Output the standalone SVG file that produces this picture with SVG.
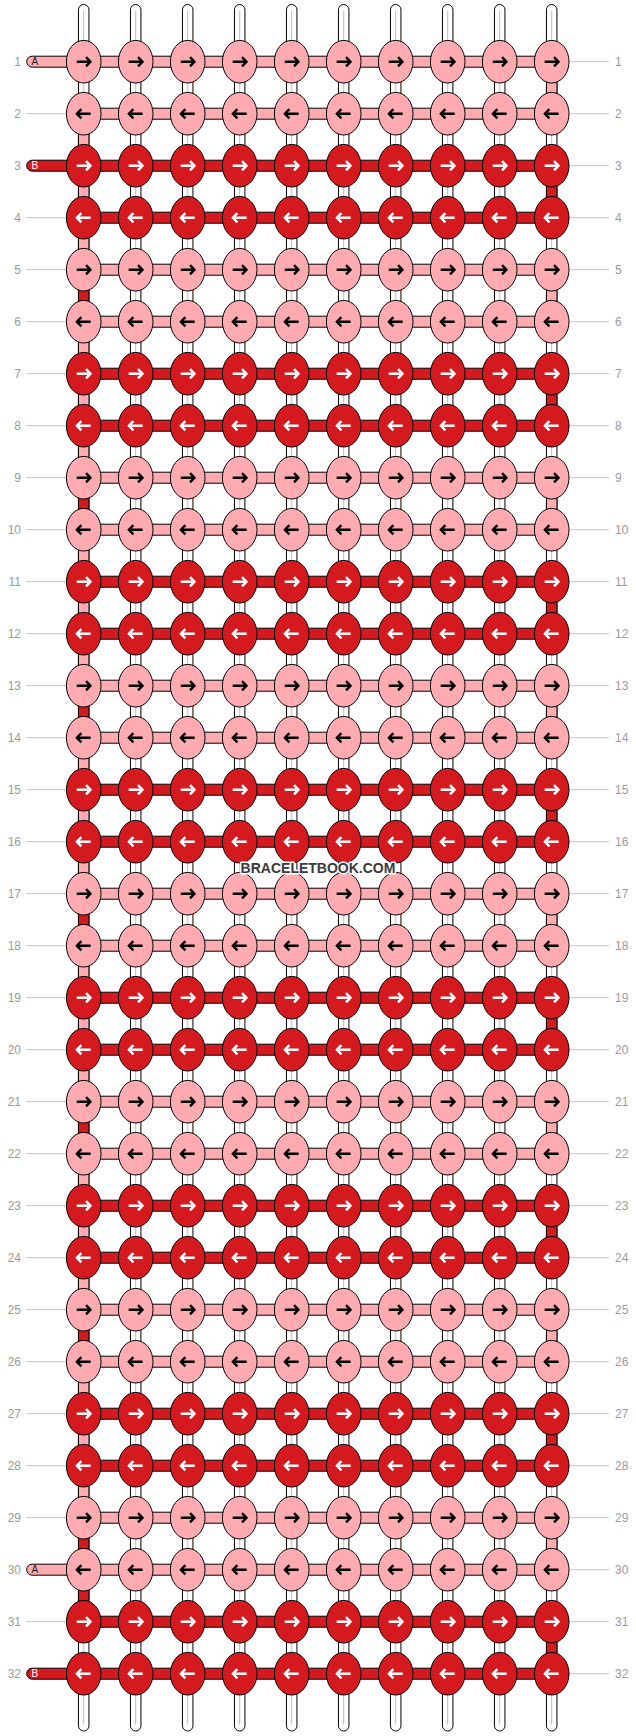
<svg xmlns="http://www.w3.org/2000/svg" xmlns:xlink="http://www.w3.org/1999/xlink" width="636" height="1736" viewBox="0 0 636 1736">
<style>
.tube{fill:#fff;stroke:#000;stroke-width:1}
.core{stroke:#bdbdbd;stroke-width:1}
.p{fill:#ffabb0;stroke:#000;stroke-width:1}
.r{fill:#d51a1f;stroke:#000;stroke-width:1}
.ak{fill:none;stroke:#000;stroke-width:2.4}
.aw{fill:none;stroke:#fff;stroke-width:2.4}
.rl{stroke:#c4c4c4;stroke-width:1}
.nl{font-family:"Liberation Sans",Arial,sans-serif;font-size:12px;fill:#9a9a9a}
.tl{font-family:"Liberation Sans",Arial,sans-serif;font-size:10px}
.wm{font-family:"Liberation Sans",Arial,sans-serif;font-size:14px;font-weight:bold;fill:#3a3a3a;stroke:#fff;stroke-width:3;paint-order:stroke;stroke-linejoin:round}
</style>
<defs>
<g id="PR"><ellipse rx="17.3" ry="21.3" class="p"/><path class="ak" d="M-7,0H5.5M2.3,-4.6L6.8,0L2.3,4.6"/></g>
<g id="PL"><ellipse rx="17.3" ry="21.3" class="p"/><path class="ak" d="M7,0H-5.5M-2.3,-4.6L-6.8,0L-2.3,4.6"/></g>
<g id="RR"><ellipse rx="17.3" ry="21.3" class="r"/><path class="aw" d="M-7,0H5.5M2.3,-4.6L6.8,0L2.3,4.6"/></g>
<g id="RL"><ellipse rx="17.3" ry="21.3" class="r"/><path class="aw" d="M7,0H-5.5M-2.3,-4.6L-6.8,0L-2.3,4.6"/></g>
</defs>
<rect width="636" height="1736" fill="#fff"/>
<g id="labels">
<g class="rl">
<line x1="26" y1="113.7" x2="67" y2="113.7"/><line x1="26" y1="217.7" x2="67" y2="217.7"/><line x1="26" y1="269.7" x2="67" y2="269.7"/><line x1="26" y1="321.7" x2="67" y2="321.7"/><line x1="26" y1="373.7" x2="67" y2="373.7"/><line x1="26" y1="425.7" x2="67" y2="425.7"/><line x1="26" y1="477.7" x2="67" y2="477.7"/><line x1="26" y1="529.7" x2="67" y2="529.7"/><line x1="26" y1="581.7" x2="67" y2="581.7"/><line x1="26" y1="633.7" x2="67" y2="633.7"/><line x1="26" y1="685.7" x2="67" y2="685.7"/><line x1="26" y1="737.7" x2="67" y2="737.7"/><line x1="26" y1="789.7" x2="67" y2="789.7"/><line x1="26" y1="841.7" x2="67" y2="841.7"/><line x1="26" y1="893.7" x2="67" y2="893.7"/><line x1="26" y1="945.7" x2="67" y2="945.7"/><line x1="26" y1="997.7" x2="67" y2="997.7"/><line x1="26" y1="1049.7" x2="67" y2="1049.7"/><line x1="26" y1="1101.7" x2="67" y2="1101.7"/><line x1="26" y1="1153.7" x2="67" y2="1153.7"/><line x1="26" y1="1205.7" x2="67" y2="1205.7"/><line x1="26" y1="1257.7" x2="67" y2="1257.7"/><line x1="26" y1="1309.7" x2="67" y2="1309.7"/><line x1="26" y1="1361.7" x2="67" y2="1361.7"/><line x1="26" y1="1413.7" x2="67" y2="1413.7"/><line x1="26" y1="1465.7" x2="67" y2="1465.7"/><line x1="26" y1="1517.7" x2="67" y2="1517.7"/><line x1="26" y1="1621.7" x2="67" y2="1621.7"/>
<line x1="569" y1="61.7" x2="609" y2="61.7"/><line x1="569" y1="113.7" x2="609" y2="113.7"/><line x1="569" y1="165.7" x2="609" y2="165.7"/><line x1="569" y1="217.7" x2="609" y2="217.7"/><line x1="569" y1="269.7" x2="609" y2="269.7"/><line x1="569" y1="321.7" x2="609" y2="321.7"/><line x1="569" y1="373.7" x2="609" y2="373.7"/><line x1="569" y1="425.7" x2="609" y2="425.7"/><line x1="569" y1="477.7" x2="609" y2="477.7"/><line x1="569" y1="529.7" x2="609" y2="529.7"/><line x1="569" y1="581.7" x2="609" y2="581.7"/><line x1="569" y1="633.7" x2="609" y2="633.7"/><line x1="569" y1="685.7" x2="609" y2="685.7"/><line x1="569" y1="737.7" x2="609" y2="737.7"/><line x1="569" y1="789.7" x2="609" y2="789.7"/><line x1="569" y1="841.7" x2="609" y2="841.7"/><line x1="569" y1="893.7" x2="609" y2="893.7"/><line x1="569" y1="945.7" x2="609" y2="945.7"/><line x1="569" y1="997.7" x2="609" y2="997.7"/><line x1="569" y1="1049.7" x2="609" y2="1049.7"/><line x1="569" y1="1101.7" x2="609" y2="1101.7"/><line x1="569" y1="1153.7" x2="609" y2="1153.7"/><line x1="569" y1="1205.7" x2="609" y2="1205.7"/><line x1="569" y1="1257.7" x2="609" y2="1257.7"/><line x1="569" y1="1309.7" x2="609" y2="1309.7"/><line x1="569" y1="1361.7" x2="609" y2="1361.7"/><line x1="569" y1="1413.7" x2="609" y2="1413.7"/><line x1="569" y1="1465.7" x2="609" y2="1465.7"/><line x1="569" y1="1517.7" x2="609" y2="1517.7"/><line x1="569" y1="1569.7" x2="609" y2="1569.7"/><line x1="569" y1="1621.7" x2="609" y2="1621.7"/><line x1="569" y1="1673.7" x2="609" y2="1673.7"/>
</g>
<g class="nl" text-anchor="end">
<text x="21" y="65.9">1</text><text x="21" y="117.9">2</text><text x="21" y="169.9">3</text><text x="21" y="221.9">4</text><text x="21" y="273.9">5</text><text x="21" y="325.9">6</text><text x="21" y="377.9">7</text><text x="21" y="429.9">8</text><text x="21" y="481.9">9</text><text x="21" y="533.9">10</text><text x="21" y="585.9">11</text><text x="21" y="637.9">12</text><text x="21" y="689.9">13</text><text x="21" y="741.9">14</text><text x="21" y="793.9">15</text><text x="21" y="845.9">16</text><text x="21" y="897.9">17</text><text x="21" y="949.9">18</text><text x="21" y="1001.9">19</text><text x="21" y="1053.9">20</text><text x="21" y="1105.9">21</text><text x="21" y="1157.9">22</text><text x="21" y="1209.9">23</text><text x="21" y="1261.9">24</text><text x="21" y="1313.9">25</text><text x="21" y="1365.9">26</text><text x="21" y="1417.9">27</text><text x="21" y="1469.9">28</text><text x="21" y="1521.9">29</text><text x="21" y="1573.9">30</text><text x="21" y="1625.9">31</text><text x="21" y="1677.9">32</text>
</g>
<g class="nl" text-anchor="start">
<text x="615" y="65.9">1</text><text x="615" y="117.9">2</text><text x="615" y="169.9">3</text><text x="615" y="221.9">4</text><text x="615" y="273.9">5</text><text x="615" y="325.9">6</text><text x="615" y="377.9">7</text><text x="615" y="429.9">8</text><text x="615" y="481.9">9</text><text x="615" y="533.9">10</text><text x="615" y="585.9">11</text><text x="615" y="637.9">12</text><text x="615" y="689.9">13</text><text x="615" y="741.9">14</text><text x="615" y="793.9">15</text><text x="615" y="845.9">16</text><text x="615" y="897.9">17</text><text x="615" y="949.9">18</text><text x="615" y="1001.9">19</text><text x="615" y="1053.9">20</text><text x="615" y="1105.9">21</text><text x="615" y="1157.9">22</text><text x="615" y="1209.9">23</text><text x="615" y="1261.9">24</text><text x="615" y="1313.9">25</text><text x="615" y="1365.9">26</text><text x="615" y="1417.9">27</text><text x="615" y="1469.9">28</text><text x="615" y="1521.9">29</text><text x="615" y="1573.9">30</text><text x="615" y="1625.9">31</text><text x="615" y="1677.9">32</text>
</g>
</g>
<g transform="translate(83.7,61.7)">
<g id="connectors">
<g id="strings">
<rect class="tube" x="-5.25" y="-57.2" width="10.5" height="1726.5" rx="5.25"/>
<rect class="tube" x="46.75" y="-57.2" width="10.5" height="1726.5" rx="5.25"/>
<rect class="tube" x="98.75" y="-57.2" width="10.5" height="1726.5" rx="5.25"/>
<rect class="tube" x="150.75" y="-57.2" width="10.5" height="1726.5" rx="5.25"/>
<rect class="tube" x="202.75" y="-57.2" width="10.5" height="1726.5" rx="5.25"/>
<rect class="tube" x="254.75" y="-57.2" width="10.5" height="1726.5" rx="5.25"/>
<rect class="tube" x="306.75" y="-57.2" width="10.5" height="1726.5" rx="5.25"/>
<rect class="tube" x="358.75" y="-57.2" width="10.5" height="1726.5" rx="5.25"/>
<rect class="tube" x="410.75" y="-57.2" width="10.5" height="1726.5" rx="5.25"/>
<rect class="tube" x="462.75" y="-57.2" width="10.5" height="1726.5" rx="5.25"/>
<g class="core">
<line x1="0" y1="-51" x2="0" y2="1663"/><line x1="52" y1="-51" x2="52" y2="1663"/><line x1="104" y1="-51" x2="104" y2="1663"/><line x1="156" y1="-51" x2="156" y2="1663"/><line x1="208" y1="-51" x2="208" y2="1663"/><line x1="260" y1="-51" x2="260" y2="1663"/><line x1="312" y1="-51" x2="312" y2="1663"/><line x1="364" y1="-51" x2="364" y2="1663"/><line x1="416" y1="-51" x2="416" y2="1663"/><line x1="468" y1="-51" x2="468" y2="1663"/>
</g>
</g>
<g id="edge-left">
<rect class="p" x="-5.25" y="67" width="10.5" height="22"/>
<rect class="p" x="-5.25" y="119" width="10.5" height="22"/>
<rect class="p" x="-5.25" y="171" width="10.5" height="22"/>
<rect class="r" x="-5.25" y="223" width="10.5" height="22"/>
<rect class="p" x="-5.25" y="275" width="10.5" height="22"/>
<rect class="p" x="-5.25" y="327" width="10.5" height="22"/>
<rect class="p" x="-5.25" y="379" width="10.5" height="22"/>
<rect class="r" x="-5.25" y="431" width="10.5" height="22"/>
<rect class="p" x="-5.25" y="483" width="10.5" height="22"/>
<rect class="p" x="-5.25" y="535" width="10.5" height="22"/>
<rect class="p" x="-5.25" y="587" width="10.5" height="22"/>
<rect class="r" x="-5.25" y="639" width="10.5" height="22"/>
<rect class="p" x="-5.25" y="691" width="10.5" height="22"/>
<rect class="p" x="-5.25" y="743" width="10.5" height="22"/>
<rect class="p" x="-5.25" y="795" width="10.5" height="22"/>
<rect class="r" x="-5.25" y="847" width="10.5" height="22"/>
<rect class="p" x="-5.25" y="899" width="10.5" height="22"/>
<rect class="p" x="-5.25" y="951" width="10.5" height="22"/>
<rect class="p" x="-5.25" y="1003" width="10.5" height="22"/>
<rect class="r" x="-5.25" y="1055" width="10.5" height="22"/>
<rect class="p" x="-5.25" y="1107" width="10.5" height="22"/>
<rect class="p" x="-5.25" y="1159" width="10.5" height="22"/>
<rect class="p" x="-5.25" y="1211" width="10.5" height="22"/>
<rect class="r" x="-5.25" y="1263" width="10.5" height="22"/>
<rect class="p" x="-5.25" y="1315" width="10.5" height="22"/>
<rect class="p" x="-5.25" y="1367" width="10.5" height="22"/>
<rect class="p" x="-5.25" y="1419" width="10.5" height="22"/>
<rect class="r" x="-5.25" y="1471" width="10.5" height="22"/>
<rect class="r" x="-5.25" y="1523" width="10.5" height="22"/>
</g>
<g id="edge-right">
<rect class="p" x="462.75" y="15" width="10.5" height="22"/>
<rect class="r" x="462.75" y="119" width="10.5" height="22"/>
<rect class="p" x="462.75" y="223" width="10.5" height="22"/>
<rect class="r" x="462.75" y="327" width="10.5" height="22"/>
<rect class="p" x="462.75" y="431" width="10.5" height="22"/>
<rect class="r" x="462.75" y="535" width="10.5" height="22"/>
<rect class="p" x="462.75" y="639" width="10.5" height="22"/>
<rect class="r" x="462.75" y="743" width="10.5" height="22"/>
<rect class="p" x="462.75" y="847" width="10.5" height="22"/>
<rect class="r" x="462.75" y="951" width="10.5" height="22"/>
<rect class="p" x="462.75" y="1055" width="10.5" height="22"/>
<rect class="r" x="462.75" y="1159" width="10.5" height="22"/>
<rect class="p" x="462.75" y="1263" width="10.5" height="22"/>
<rect class="r" x="462.75" y="1367" width="10.5" height="22"/>
<rect class="p" x="462.75" y="1471" width="10.5" height="22"/>
<rect class="r" x="462.75" y="1575" width="10.5" height="22"/>
</g>
<g id="rows">
<rect class="p" x="-57" y="-5.5" width="70" height="11" rx="5.5"/>
<rect class="r" x="-57" y="98.5" width="70" height="11" rx="5.5"/>
<rect class="p" x="-57" y="1502.5" width="70" height="11" rx="5.5"/>
<rect class="r" x="-57" y="1606.5" width="70" height="11" rx="5.5"/>
<rect class="p" x="0" y="-5.5" width="468" height="11"/>
<rect class="p" x="0" y="46.5" width="468" height="11"/>
<rect class="r" x="0" y="98.5" width="468" height="11"/>
<rect class="r" x="0" y="150.5" width="468" height="11"/>
<rect class="p" x="0" y="202.5" width="468" height="11"/>
<rect class="p" x="0" y="254.5" width="468" height="11"/>
<rect class="r" x="0" y="306.5" width="468" height="11"/>
<rect class="r" x="0" y="358.5" width="468" height="11"/>
<rect class="p" x="0" y="410.5" width="468" height="11"/>
<rect class="p" x="0" y="462.5" width="468" height="11"/>
<rect class="r" x="0" y="514.5" width="468" height="11"/>
<rect class="r" x="0" y="566.5" width="468" height="11"/>
<rect class="p" x="0" y="618.5" width="468" height="11"/>
<rect class="p" x="0" y="670.5" width="468" height="11"/>
<rect class="r" x="0" y="722.5" width="468" height="11"/>
<rect class="r" x="0" y="774.5" width="468" height="11"/>
<rect class="p" x="0" y="826.5" width="468" height="11"/>
<rect class="p" x="0" y="878.5" width="468" height="11"/>
<rect class="r" x="0" y="930.5" width="468" height="11"/>
<rect class="r" x="0" y="982.5" width="468" height="11"/>
<rect class="p" x="0" y="1034.5" width="468" height="11"/>
<rect class="p" x="0" y="1086.5" width="468" height="11"/>
<rect class="r" x="0" y="1138.5" width="468" height="11"/>
<rect class="r" x="0" y="1190.5" width="468" height="11"/>
<rect class="p" x="0" y="1242.5" width="468" height="11"/>
<rect class="p" x="0" y="1294.5" width="468" height="11"/>
<rect class="r" x="0" y="1346.5" width="468" height="11"/>
<rect class="r" x="0" y="1398.5" width="468" height="11"/>
<rect class="p" x="0" y="1450.5" width="468" height="11"/>
<rect class="p" x="0" y="1502.5" width="468" height="11"/>
<rect class="r" x="0" y="1554.5" width="468" height="11"/>
<rect class="r" x="0" y="1606.5" width="468" height="11"/>
</g>
</g>
<g id="nodes">
<g id="row1"><use id="n1-1" href="#PR" x="0" y="0"/><use id="n1-2" href="#PR" x="52" y="0"/><use id="n1-3" href="#PR" x="104" y="0"/><use id="n1-4" href="#PR" x="156" y="0"/><use id="n1-5" href="#PR" x="208" y="0"/><use id="n1-6" href="#PR" x="260" y="0"/><use id="n1-7" href="#PR" x="312" y="0"/><use id="n1-8" href="#PR" x="364" y="0"/><use id="n1-9" href="#PR" x="416" y="0"/><use id="n1-10" href="#PR" x="468" y="0"/></g>
<g id="row2"><use id="n2-1" href="#PL" x="0" y="52"/><use id="n2-2" href="#PL" x="52" y="52"/><use id="n2-3" href="#PL" x="104" y="52"/><use id="n2-4" href="#PL" x="156" y="52"/><use id="n2-5" href="#PL" x="208" y="52"/><use id="n2-6" href="#PL" x="260" y="52"/><use id="n2-7" href="#PL" x="312" y="52"/><use id="n2-8" href="#PL" x="364" y="52"/><use id="n2-9" href="#PL" x="416" y="52"/><use id="n2-10" href="#PL" x="468" y="52"/></g>
<g id="row3"><use id="n3-1" href="#RR" x="0" y="104"/><use id="n3-2" href="#RR" x="52" y="104"/><use id="n3-3" href="#RR" x="104" y="104"/><use id="n3-4" href="#RR" x="156" y="104"/><use id="n3-5" href="#RR" x="208" y="104"/><use id="n3-6" href="#RR" x="260" y="104"/><use id="n3-7" href="#RR" x="312" y="104"/><use id="n3-8" href="#RR" x="364" y="104"/><use id="n3-9" href="#RR" x="416" y="104"/><use id="n3-10" href="#RR" x="468" y="104"/></g>
<g id="row4"><use id="n4-1" href="#RL" x="0" y="156"/><use id="n4-2" href="#RL" x="52" y="156"/><use id="n4-3" href="#RL" x="104" y="156"/><use id="n4-4" href="#RL" x="156" y="156"/><use id="n4-5" href="#RL" x="208" y="156"/><use id="n4-6" href="#RL" x="260" y="156"/><use id="n4-7" href="#RL" x="312" y="156"/><use id="n4-8" href="#RL" x="364" y="156"/><use id="n4-9" href="#RL" x="416" y="156"/><use id="n4-10" href="#RL" x="468" y="156"/></g>
<g id="row5"><use id="n5-1" href="#PR" x="0" y="208"/><use id="n5-2" href="#PR" x="52" y="208"/><use id="n5-3" href="#PR" x="104" y="208"/><use id="n5-4" href="#PR" x="156" y="208"/><use id="n5-5" href="#PR" x="208" y="208"/><use id="n5-6" href="#PR" x="260" y="208"/><use id="n5-7" href="#PR" x="312" y="208"/><use id="n5-8" href="#PR" x="364" y="208"/><use id="n5-9" href="#PR" x="416" y="208"/><use id="n5-10" href="#PR" x="468" y="208"/></g>
<g id="row6"><use id="n6-1" href="#PL" x="0" y="260"/><use id="n6-2" href="#PL" x="52" y="260"/><use id="n6-3" href="#PL" x="104" y="260"/><use id="n6-4" href="#PL" x="156" y="260"/><use id="n6-5" href="#PL" x="208" y="260"/><use id="n6-6" href="#PL" x="260" y="260"/><use id="n6-7" href="#PL" x="312" y="260"/><use id="n6-8" href="#PL" x="364" y="260"/><use id="n6-9" href="#PL" x="416" y="260"/><use id="n6-10" href="#PL" x="468" y="260"/></g>
<g id="row7"><use id="n7-1" href="#RR" x="0" y="312"/><use id="n7-2" href="#RR" x="52" y="312"/><use id="n7-3" href="#RR" x="104" y="312"/><use id="n7-4" href="#RR" x="156" y="312"/><use id="n7-5" href="#RR" x="208" y="312"/><use id="n7-6" href="#RR" x="260" y="312"/><use id="n7-7" href="#RR" x="312" y="312"/><use id="n7-8" href="#RR" x="364" y="312"/><use id="n7-9" href="#RR" x="416" y="312"/><use id="n7-10" href="#RR" x="468" y="312"/></g>
<g id="row8"><use id="n8-1" href="#RL" x="0" y="364"/><use id="n8-2" href="#RL" x="52" y="364"/><use id="n8-3" href="#RL" x="104" y="364"/><use id="n8-4" href="#RL" x="156" y="364"/><use id="n8-5" href="#RL" x="208" y="364"/><use id="n8-6" href="#RL" x="260" y="364"/><use id="n8-7" href="#RL" x="312" y="364"/><use id="n8-8" href="#RL" x="364" y="364"/><use id="n8-9" href="#RL" x="416" y="364"/><use id="n8-10" href="#RL" x="468" y="364"/></g>
<g id="row9"><use id="n9-1" href="#PR" x="0" y="416"/><use id="n9-2" href="#PR" x="52" y="416"/><use id="n9-3" href="#PR" x="104" y="416"/><use id="n9-4" href="#PR" x="156" y="416"/><use id="n9-5" href="#PR" x="208" y="416"/><use id="n9-6" href="#PR" x="260" y="416"/><use id="n9-7" href="#PR" x="312" y="416"/><use id="n9-8" href="#PR" x="364" y="416"/><use id="n9-9" href="#PR" x="416" y="416"/><use id="n9-10" href="#PR" x="468" y="416"/></g>
<g id="row10"><use id="n10-1" href="#PL" x="0" y="468"/><use id="n10-2" href="#PL" x="52" y="468"/><use id="n10-3" href="#PL" x="104" y="468"/><use id="n10-4" href="#PL" x="156" y="468"/><use id="n10-5" href="#PL" x="208" y="468"/><use id="n10-6" href="#PL" x="260" y="468"/><use id="n10-7" href="#PL" x="312" y="468"/><use id="n10-8" href="#PL" x="364" y="468"/><use id="n10-9" href="#PL" x="416" y="468"/><use id="n10-10" href="#PL" x="468" y="468"/></g>
<g id="row11"><use id="n11-1" href="#RR" x="0" y="520"/><use id="n11-2" href="#RR" x="52" y="520"/><use id="n11-3" href="#RR" x="104" y="520"/><use id="n11-4" href="#RR" x="156" y="520"/><use id="n11-5" href="#RR" x="208" y="520"/><use id="n11-6" href="#RR" x="260" y="520"/><use id="n11-7" href="#RR" x="312" y="520"/><use id="n11-8" href="#RR" x="364" y="520"/><use id="n11-9" href="#RR" x="416" y="520"/><use id="n11-10" href="#RR" x="468" y="520"/></g>
<g id="row12"><use id="n12-1" href="#RL" x="0" y="572"/><use id="n12-2" href="#RL" x="52" y="572"/><use id="n12-3" href="#RL" x="104" y="572"/><use id="n12-4" href="#RL" x="156" y="572"/><use id="n12-5" href="#RL" x="208" y="572"/><use id="n12-6" href="#RL" x="260" y="572"/><use id="n12-7" href="#RL" x="312" y="572"/><use id="n12-8" href="#RL" x="364" y="572"/><use id="n12-9" href="#RL" x="416" y="572"/><use id="n12-10" href="#RL" x="468" y="572"/></g>
<g id="row13"><use id="n13-1" href="#PR" x="0" y="624"/><use id="n13-2" href="#PR" x="52" y="624"/><use id="n13-3" href="#PR" x="104" y="624"/><use id="n13-4" href="#PR" x="156" y="624"/><use id="n13-5" href="#PR" x="208" y="624"/><use id="n13-6" href="#PR" x="260" y="624"/><use id="n13-7" href="#PR" x="312" y="624"/><use id="n13-8" href="#PR" x="364" y="624"/><use id="n13-9" href="#PR" x="416" y="624"/><use id="n13-10" href="#PR" x="468" y="624"/></g>
<g id="row14"><use id="n14-1" href="#PL" x="0" y="676"/><use id="n14-2" href="#PL" x="52" y="676"/><use id="n14-3" href="#PL" x="104" y="676"/><use id="n14-4" href="#PL" x="156" y="676"/><use id="n14-5" href="#PL" x="208" y="676"/><use id="n14-6" href="#PL" x="260" y="676"/><use id="n14-7" href="#PL" x="312" y="676"/><use id="n14-8" href="#PL" x="364" y="676"/><use id="n14-9" href="#PL" x="416" y="676"/><use id="n14-10" href="#PL" x="468" y="676"/></g>
<g id="row15"><use id="n15-1" href="#RR" x="0" y="728"/><use id="n15-2" href="#RR" x="52" y="728"/><use id="n15-3" href="#RR" x="104" y="728"/><use id="n15-4" href="#RR" x="156" y="728"/><use id="n15-5" href="#RR" x="208" y="728"/><use id="n15-6" href="#RR" x="260" y="728"/><use id="n15-7" href="#RR" x="312" y="728"/><use id="n15-8" href="#RR" x="364" y="728"/><use id="n15-9" href="#RR" x="416" y="728"/><use id="n15-10" href="#RR" x="468" y="728"/></g>
<g id="row16"><use id="n16-1" href="#RL" x="0" y="780"/><use id="n16-2" href="#RL" x="52" y="780"/><use id="n16-3" href="#RL" x="104" y="780"/><use id="n16-4" href="#RL" x="156" y="780"/><use id="n16-5" href="#RL" x="208" y="780"/><use id="n16-6" href="#RL" x="260" y="780"/><use id="n16-7" href="#RL" x="312" y="780"/><use id="n16-8" href="#RL" x="364" y="780"/><use id="n16-9" href="#RL" x="416" y="780"/><use id="n16-10" href="#RL" x="468" y="780"/></g>
<g id="row17"><use id="n17-1" href="#PR" x="0" y="832"/><use id="n17-2" href="#PR" x="52" y="832"/><use id="n17-3" href="#PR" x="104" y="832"/><use id="n17-4" href="#PR" x="156" y="832"/><use id="n17-5" href="#PR" x="208" y="832"/><use id="n17-6" href="#PR" x="260" y="832"/><use id="n17-7" href="#PR" x="312" y="832"/><use id="n17-8" href="#PR" x="364" y="832"/><use id="n17-9" href="#PR" x="416" y="832"/><use id="n17-10" href="#PR" x="468" y="832"/></g>
<g id="row18"><use id="n18-1" href="#PL" x="0" y="884"/><use id="n18-2" href="#PL" x="52" y="884"/><use id="n18-3" href="#PL" x="104" y="884"/><use id="n18-4" href="#PL" x="156" y="884"/><use id="n18-5" href="#PL" x="208" y="884"/><use id="n18-6" href="#PL" x="260" y="884"/><use id="n18-7" href="#PL" x="312" y="884"/><use id="n18-8" href="#PL" x="364" y="884"/><use id="n18-9" href="#PL" x="416" y="884"/><use id="n18-10" href="#PL" x="468" y="884"/></g>
<g id="row19"><use id="n19-1" href="#RR" x="0" y="936"/><use id="n19-2" href="#RR" x="52" y="936"/><use id="n19-3" href="#RR" x="104" y="936"/><use id="n19-4" href="#RR" x="156" y="936"/><use id="n19-5" href="#RR" x="208" y="936"/><use id="n19-6" href="#RR" x="260" y="936"/><use id="n19-7" href="#RR" x="312" y="936"/><use id="n19-8" href="#RR" x="364" y="936"/><use id="n19-9" href="#RR" x="416" y="936"/><use id="n19-10" href="#RR" x="468" y="936"/></g>
<g id="row20"><use id="n20-1" href="#RL" x="0" y="988"/><use id="n20-2" href="#RL" x="52" y="988"/><use id="n20-3" href="#RL" x="104" y="988"/><use id="n20-4" href="#RL" x="156" y="988"/><use id="n20-5" href="#RL" x="208" y="988"/><use id="n20-6" href="#RL" x="260" y="988"/><use id="n20-7" href="#RL" x="312" y="988"/><use id="n20-8" href="#RL" x="364" y="988"/><use id="n20-9" href="#RL" x="416" y="988"/><use id="n20-10" href="#RL" x="468" y="988"/></g>
<g id="row21"><use id="n21-1" href="#PR" x="0" y="1040"/><use id="n21-2" href="#PR" x="52" y="1040"/><use id="n21-3" href="#PR" x="104" y="1040"/><use id="n21-4" href="#PR" x="156" y="1040"/><use id="n21-5" href="#PR" x="208" y="1040"/><use id="n21-6" href="#PR" x="260" y="1040"/><use id="n21-7" href="#PR" x="312" y="1040"/><use id="n21-8" href="#PR" x="364" y="1040"/><use id="n21-9" href="#PR" x="416" y="1040"/><use id="n21-10" href="#PR" x="468" y="1040"/></g>
<g id="row22"><use id="n22-1" href="#PL" x="0" y="1092"/><use id="n22-2" href="#PL" x="52" y="1092"/><use id="n22-3" href="#PL" x="104" y="1092"/><use id="n22-4" href="#PL" x="156" y="1092"/><use id="n22-5" href="#PL" x="208" y="1092"/><use id="n22-6" href="#PL" x="260" y="1092"/><use id="n22-7" href="#PL" x="312" y="1092"/><use id="n22-8" href="#PL" x="364" y="1092"/><use id="n22-9" href="#PL" x="416" y="1092"/><use id="n22-10" href="#PL" x="468" y="1092"/></g>
<g id="row23"><use id="n23-1" href="#RR" x="0" y="1144"/><use id="n23-2" href="#RR" x="52" y="1144"/><use id="n23-3" href="#RR" x="104" y="1144"/><use id="n23-4" href="#RR" x="156" y="1144"/><use id="n23-5" href="#RR" x="208" y="1144"/><use id="n23-6" href="#RR" x="260" y="1144"/><use id="n23-7" href="#RR" x="312" y="1144"/><use id="n23-8" href="#RR" x="364" y="1144"/><use id="n23-9" href="#RR" x="416" y="1144"/><use id="n23-10" href="#RR" x="468" y="1144"/></g>
<g id="row24"><use id="n24-1" href="#RL" x="0" y="1196"/><use id="n24-2" href="#RL" x="52" y="1196"/><use id="n24-3" href="#RL" x="104" y="1196"/><use id="n24-4" href="#RL" x="156" y="1196"/><use id="n24-5" href="#RL" x="208" y="1196"/><use id="n24-6" href="#RL" x="260" y="1196"/><use id="n24-7" href="#RL" x="312" y="1196"/><use id="n24-8" href="#RL" x="364" y="1196"/><use id="n24-9" href="#RL" x="416" y="1196"/><use id="n24-10" href="#RL" x="468" y="1196"/></g>
<g id="row25"><use id="n25-1" href="#PR" x="0" y="1248"/><use id="n25-2" href="#PR" x="52" y="1248"/><use id="n25-3" href="#PR" x="104" y="1248"/><use id="n25-4" href="#PR" x="156" y="1248"/><use id="n25-5" href="#PR" x="208" y="1248"/><use id="n25-6" href="#PR" x="260" y="1248"/><use id="n25-7" href="#PR" x="312" y="1248"/><use id="n25-8" href="#PR" x="364" y="1248"/><use id="n25-9" href="#PR" x="416" y="1248"/><use id="n25-10" href="#PR" x="468" y="1248"/></g>
<g id="row26"><use id="n26-1" href="#PL" x="0" y="1300"/><use id="n26-2" href="#PL" x="52" y="1300"/><use id="n26-3" href="#PL" x="104" y="1300"/><use id="n26-4" href="#PL" x="156" y="1300"/><use id="n26-5" href="#PL" x="208" y="1300"/><use id="n26-6" href="#PL" x="260" y="1300"/><use id="n26-7" href="#PL" x="312" y="1300"/><use id="n26-8" href="#PL" x="364" y="1300"/><use id="n26-9" href="#PL" x="416" y="1300"/><use id="n26-10" href="#PL" x="468" y="1300"/></g>
<g id="row27"><use id="n27-1" href="#RR" x="0" y="1352"/><use id="n27-2" href="#RR" x="52" y="1352"/><use id="n27-3" href="#RR" x="104" y="1352"/><use id="n27-4" href="#RR" x="156" y="1352"/><use id="n27-5" href="#RR" x="208" y="1352"/><use id="n27-6" href="#RR" x="260" y="1352"/><use id="n27-7" href="#RR" x="312" y="1352"/><use id="n27-8" href="#RR" x="364" y="1352"/><use id="n27-9" href="#RR" x="416" y="1352"/><use id="n27-10" href="#RR" x="468" y="1352"/></g>
<g id="row28"><use id="n28-1" href="#RL" x="0" y="1404"/><use id="n28-2" href="#RL" x="52" y="1404"/><use id="n28-3" href="#RL" x="104" y="1404"/><use id="n28-4" href="#RL" x="156" y="1404"/><use id="n28-5" href="#RL" x="208" y="1404"/><use id="n28-6" href="#RL" x="260" y="1404"/><use id="n28-7" href="#RL" x="312" y="1404"/><use id="n28-8" href="#RL" x="364" y="1404"/><use id="n28-9" href="#RL" x="416" y="1404"/><use id="n28-10" href="#RL" x="468" y="1404"/></g>
<g id="row29"><use id="n29-1" href="#PR" x="0" y="1456"/><use id="n29-2" href="#PR" x="52" y="1456"/><use id="n29-3" href="#PR" x="104" y="1456"/><use id="n29-4" href="#PR" x="156" y="1456"/><use id="n29-5" href="#PR" x="208" y="1456"/><use id="n29-6" href="#PR" x="260" y="1456"/><use id="n29-7" href="#PR" x="312" y="1456"/><use id="n29-8" href="#PR" x="364" y="1456"/><use id="n29-9" href="#PR" x="416" y="1456"/><use id="n29-10" href="#PR" x="468" y="1456"/></g>
<g id="row30"><use id="n30-1" href="#PL" x="0" y="1508"/><use id="n30-2" href="#PL" x="52" y="1508"/><use id="n30-3" href="#PL" x="104" y="1508"/><use id="n30-4" href="#PL" x="156" y="1508"/><use id="n30-5" href="#PL" x="208" y="1508"/><use id="n30-6" href="#PL" x="260" y="1508"/><use id="n30-7" href="#PL" x="312" y="1508"/><use id="n30-8" href="#PL" x="364" y="1508"/><use id="n30-9" href="#PL" x="416" y="1508"/><use id="n30-10" href="#PL" x="468" y="1508"/></g>
<g id="row31"><use id="n31-1" href="#RR" x="0" y="1560"/><use id="n31-2" href="#RR" x="52" y="1560"/><use id="n31-3" href="#RR" x="104" y="1560"/><use id="n31-4" href="#RR" x="156" y="1560"/><use id="n31-5" href="#RR" x="208" y="1560"/><use id="n31-6" href="#RR" x="260" y="1560"/><use id="n31-7" href="#RR" x="312" y="1560"/><use id="n31-8" href="#RR" x="364" y="1560"/><use id="n31-9" href="#RR" x="416" y="1560"/><use id="n31-10" href="#RR" x="468" y="1560"/></g>
<g id="row32"><use id="n32-1" href="#RL" x="0" y="1612"/><use id="n32-2" href="#RL" x="52" y="1612"/><use id="n32-3" href="#RL" x="104" y="1612"/><use id="n32-4" href="#RL" x="156" y="1612"/><use id="n32-5" href="#RL" x="208" y="1612"/><use id="n32-6" href="#RL" x="260" y="1612"/><use id="n32-7" href="#RL" x="312" y="1612"/><use id="n32-8" href="#RL" x="364" y="1612"/><use id="n32-9" href="#RL" x="416" y="1612"/><use id="n32-10" href="#RL" x="468" y="1612"/></g>
</g>
</g>
<g id="thread-labels" class="tl">
<text x="31.5" y="65.3" fill="#222">A</text>
<text x="31.5" y="169.3" fill="#fff">B</text>
<text x="31.5" y="1573.3" fill="#222">A</text>
<text x="31.5" y="1677.3" fill="#fff">B</text>
</g>
<text class="wm" x="318" y="872.5" text-anchor="middle">BRACELETBOOK.COM</text>
</svg>
